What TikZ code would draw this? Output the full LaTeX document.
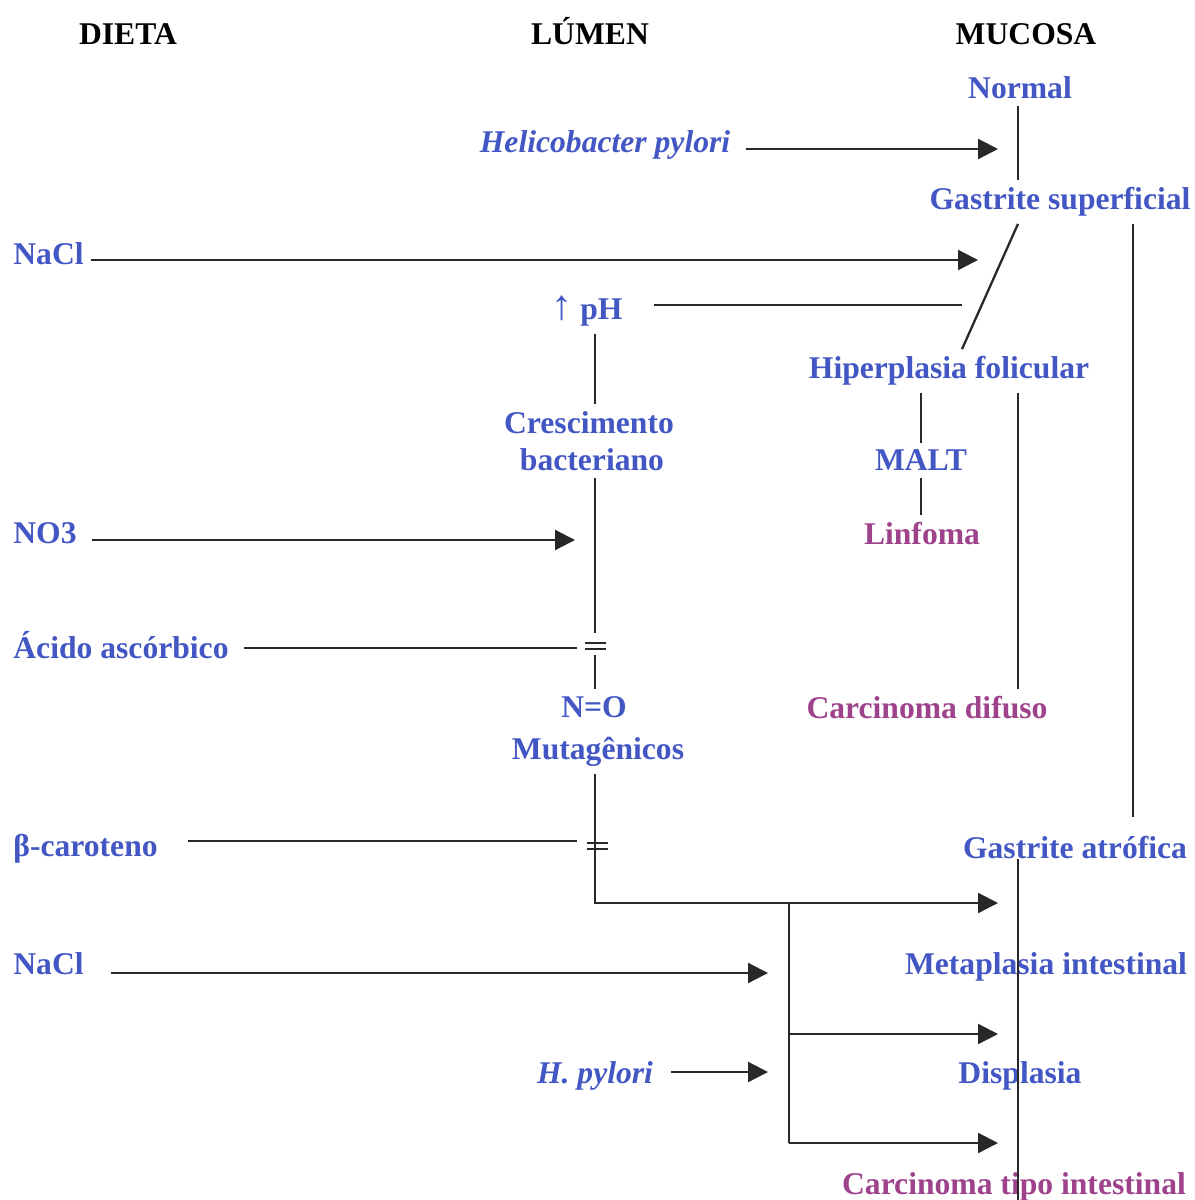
\documentclass[tikz,border=0pt]{standalone}
\usepackage{fontspec}
\setmainfont{Liberation Serif}
\usetikzlibrary{arrows.meta,calc}
\definecolor{azul}{RGB}{66,86,196}
\definecolor{rosa}{RGB}{158,66,140}
\definecolor{traco}{RGB}{40,40,40}
\tikzset{
  rotulo/.style = {inner sep=4pt, anchor=base, yshift=-1pt, font=\bfseries\fontsize{18}{21}\selectfont},
  cab/.style = {rotulo, text=black},
  rot_a/.style = {rotulo, text=azul},
  rot_m/.style = {rotulo, text=rosa},
  linha/.style = {draw=traco, line width=1.3pt},
  seta/.style = {linha, -{Triangle[length=0.4cm, width=0.4cm]}}
}

\begin{document}
\begin{tikzpicture}[x=0.02cm, y=-0.02cm]
	\useasboundingbox (0,0) rectangle (1194,1200);
	\node [cab] (dieta) at (128,43) {DIETA};
	\node [cab] (lumen) at (590,43) {LÚMEN};
	\node [cab] (mucosa) at (1026,43) {MUCOSA};

	\node [rot_a] (normal) at (1020,97) {Normal};
	\node [rot_a] (gs) at (1060,208) {Gastrite superficial};
	\node [rot_a] (hf) at (949,377) {Hiperplasia folicular};
	\node [rot_a] (malt) at (921,469) {MALT};
	\node [rot_m] (lin) at (922,543) {Linfoma};
	\node [rot_m] (cd) at (927,717) {Carcinoma difuso};
	\node [rot_a] (ga) at (1075,857) {Gastrite atrófica};
	\node [rot_a] (mi) at (1046,973) {Metaplasia intestinal};
	\node [rot_a] (dis) at (1020,1082) {Displasia};
	\node [rot_m] (cti) at (1014,1193) {Carcinoma tipo intestinal};

	\node [rot_a] (hp) at (605,151) {\itshape Helicobacter pylori};
	\node [rot_a] (ph) at (587,318) {{\mdseries\fontsize{24}{24}\selectfont ↑} pH};
	\node [rot_a] (cr) at (589,432) {Crescimento};
	\node [rot_a] (ba) at (592,469) {bacteriano};
	\node [rot_a] (no) at (594,716) {N=O};
	\node [rot_a] (mu) at (598,758) {Mutagênicos};
	\node [rot_a] (hp2) at (595,1082) {\itshape H. pylori};

	\node [rot_a, anchor=base west] (nacl1) at (6,263) {NaCl};
	\node [rot_a, anchor=base west] (no3) at (6,542) {NO3};
	\node [rot_a, anchor=base west] (aa) at (6,657) {Ácido ascórbico};
	\node [rot_a, anchor=base west] (bc) at (6,855) {β-caroteno};
	\node [rot_a, anchor=base west] (nacl2) at (6,973) {NaCl};

	\coordinate (xl) at (595,0);
	\coordinate (xs) at (789,0);
	\coordinate (xmalt) at (921,0);
	\coordinate (xd) at (962,0);
	\coordinate (xm) at (1018,0);
	\coordinate (xr) at (1133,0);
	\coordinate (t_hp) at (998,149);
	\coordinate (t_na1) at (978,260);
	\coordinate (t_ph) at (962,305);
	\coordinate (t_no3) at (575,540);
	\coordinate (e_aa) at (577,648);
	\coordinate (eq1) at (595,646);
	\coordinate (e_bc) at (577,841);
	\coordinate (eq2) at (597,846);
	\coordinate (t_ga) at (998,903);
	\coordinate (t_na2) at (768,973);
	\coordinate (t_di) at (998,1034);
	\coordinate (t_hp2) at (768,1072);
	\coordinate (t_ca) at (998,1143);
	\coordinate (fundo) at (1018,1200);

	\draw [linha] (normal.south -| xm) -- (gs.north -| xm);
	\draw [linha] (gs.south -| xm) -- (hf.north -| xd);
	\draw [linha] (gs.south -| xr) -- ($(ga.north -| xr)+(0,-12)$);
	\draw [linha] (hf.south -| xmalt) -- (malt.north -| xmalt);
	\draw [linha] (malt.south -| xmalt) -- (lin.north -| xmalt);
	\draw [linha] (hf.south -| xm) -- (cd.north -| xm);
	\draw [linha] (ga.base -| xm) -- (fundo);

	\draw [seta] (hp.east |- t_hp) ++(8,0) -- (t_hp);
	\draw [seta] (nacl1.east |- t_na1) -- (t_na1);
	\draw [linha] (ph.east |- t_ph) ++(24,0) -- (t_ph);
	\draw [seta] (no3.east |- t_no3) ++(8,0) -- (t_no3);
	\draw [linha] (aa.east |- e_aa) ++(8,0) -- (e_aa);
	\draw [linha] (bc.east |- e_bc) ++(23,0) -- (e_bc);

	\draw [linha] (ph.south -| xl) -- (cr.north -| xl);
	\draw [linha] (ba.south -| xl) -- ($(eq1)+(0,-13)$);
	\draw [linha] ($(eq1)+(0,9)$) -- (no.north -| xl);
	\draw [seta] (mu.south -| xl) |- (t_ga);
	\draw [linha] ($(eq1)+(-10,-3)$) -- ++(21,0) ($(eq1)+(-10,3)$) -- ++(21,0);
	\draw [linha] ($(eq2)+(-10,-3)$) -- ++(21,0) ($(eq2)+(-10,3)$) -- ++(21,0);

	\draw [linha] (t_ga -| xs) -- (t_ca -| xs);
	\draw [seta] (t_di -| xs) -- (t_di);
	\draw [seta] (t_ca -| xs) -- (t_ca);
	\draw [seta] (nacl2.east |- t_na2) ++(20,0) -- (t_na2);
	\draw [seta] (hp2.east |- t_hp2) ++(11,0) -- (t_hp2);
\end{tikzpicture}
\end{document}
